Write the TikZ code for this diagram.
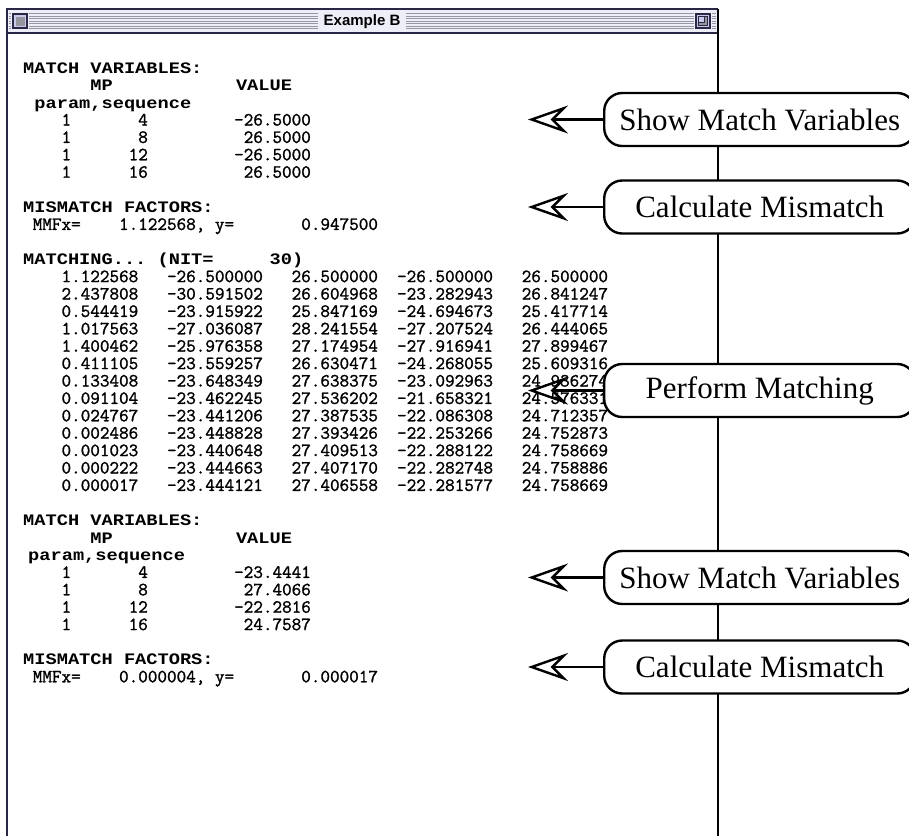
\documentclass[tikz,border=0pt]{standalone}
\usepackage{fontspec}
\usetikzlibrary{arrows.meta}
\newfontfamily\termfont{Latin Modern Mono}[FakeBold=1.4]
% Mac-style synthetic bold: one extra pixel per glyph, so the bold face runs wider
\newfontfamily\termbold{Liberation Mono}[FakeStretch=1.167]
\newfontfamily\calloutfont{Liberation Serif}
\newfontfamily\titlefont{Liberation Sans}
\definecolor{titlebg}{RGB}{238,238,248}
\definecolor{stripe}{RGB}{150,150,165}
\definecolor{chrome}{RGB}{40,40,70}
\definecolor{boxfill}{RGB}{200,200,232}
\definecolor{boxshade}{RGB}{150,150,160}
% baseline of text line #1 (lines are 17.4pt apart)
\newcommand\rowy[1]{{73.3+17.4*(#1-1)}}
\frenchspacing
\begin{document}
\begin{tikzpicture}[x=1pt,y=-1pt,
  mono/.style={inner sep=0pt,anchor=base west,font=\termfont\fontsize{18.62}{18}\selectfont},
  monob/.style={inner sep=0pt,anchor=base west,font=\termbold\bfseries\fontsize{16}{16}\selectfont},
  callout/.style={draw,line width=2.4pt,fill=white,rounded corners=18pt,
    minimum width=311pt,minimum height=53pt,inner sep=0pt,anchor=west,
    font=\calloutfont\fontsize{31}{31}\selectfont},
  pointer/.style={line width=2.4pt,-{Stealth[open,length=40pt,width=28pt,inset=14pt]}},
  stripe line/.style={stripe,line width=0.9pt},
  frame/.style={line width=2pt,chrome}]

\useasboundingbox (0,0) rectangle (909,836);
\fill[white] (0,0) rectangle (909,836);

% ---- window title bar ----
\fill[titlebg] (7,9) rectangle (718,33);
\foreach \yy in {13.5,16,18.5,21,23.5,26,28.5}
  \draw[stripe line] (9,\yy) -- (716,\yy);
\fill[titlebg] (318,11) rectangle (406,31);
\node[inner sep=0pt,font=\titlefont\bfseries\fontsize{15}{15}\selectfont] (title) at (362,21.5) {Example B};
% close box
\fill[titlebg] (11,12) rectangle (29,30);
\draw[chrome,line width=1.2pt,fill=boxfill] (13,14) rectangle (27,28);
\fill[boxshade] (15.5,16.5) rectangle (25,26);
% zoom box
\fill[titlebg] (694,12) rectangle (712,30);
\draw[chrome,line width=1.2pt,fill=boxfill] (696,14) rectangle (710,28);
\draw[chrome,line width=1pt,fill=boxshade] (698.5,16.5) rectangle (707,25.5);
\draw[chrome,line width=1pt,fill=boxfill] (698.5,16.5) rectangle (704,22);
\draw[chrome,line width=1.4pt] (7,33) -- (718,33);

% ---- window frame ----
\draw[frame] (7,836) -- (7,9) -- (718,9);
\draw[line width=2.4pt] (718,9) -- (718,836);

% ---- terminal output ----
\node[monob] (h1a) at (23,\rowy{1}) {MATCH};
\node[monob] (h1b) at (90.2,\rowy{1}) {VARIABLES:};
\node[monob] (h2a) at (90.2,\rowy{2}) {MP};
\node[monob] (h2b) at (235.8,\rowy{2}) {VALUE};
\node[monob] (h3) at (34.2,\rowy{3}) {param,sequence};
\node[mono] (r1) at (23,\rowy{4}) {~~~~1~~~~~~~4~~~~~~~~~-26.5000};
\node[mono] (r2) at (23,\rowy{5}) {~~~~1~~~~~~~8~~~~~~~~~~26.5000};
\node[mono] (r3) at (23,\rowy{6}) {~~~~1~~~~~~12~~~~~~~~~-26.5000};
\node[mono] (r4) at (23,\rowy{7}) {~~~~1~~~~~~16~~~~~~~~~~26.5000};

\node[monob] (m1a) at (23,\rowy{9}) {MISMATCH};
\node[monob] (m1b) at (123.8,\rowy{9}) {FACTORS:};
\node[mono] (m1c) at (23,\rowy{10}) {~MMFx=~~~~1.122568,~y=~~~~~~~0.947500};

\node[monob] (n1) at (23,\rowy{12}) {MATCHING...};
\node[monob] (n2) at (157.4,\rowy{12}) {(NIT=};
\node[monob] (n3) at (269.4,\rowy{12}) {30)};
\node[mono] (d1) at (23,\rowy{13}) {~~~~1.122568~~~-26.500000~~~26.500000~~-26.500000~~~26.500000};
\node[mono] (d2) at (23,\rowy{14}) {~~~~2.437808~~~-30.591502~~~26.604968~~-23.282943~~~26.841247};
\node[mono] (d3) at (23,\rowy{15}) {~~~~0.544419~~~-23.915922~~~25.847169~~-24.694673~~~25.417714};
\node[mono] (d4) at (23,\rowy{16}) {~~~~1.017563~~~-27.036087~~~28.241554~~-27.207524~~~26.444065};
\node[mono] (d5) at (23,\rowy{17}) {~~~~1.400462~~~-25.976358~~~27.174954~~-27.916941~~~27.899467};
\node[mono] (d6) at (23,\rowy{18}) {~~~~0.411105~~~-23.559257~~~26.630471~~-24.268055~~~25.609316};
\node[mono] (d7) at (23,\rowy{19}) {~~~~0.133408~~~-23.648349~~~27.638375~~-23.092963~~~24.936274};
\node[mono] (d8) at (23,\rowy{20}) {~~~~0.091104~~~-23.462245~~~27.536202~~-21.658321~~~24.576331};
\node[mono] (d9) at (23,\rowy{21}) {~~~~0.024767~~~-23.441206~~~27.387535~~-22.086308~~~24.712357};
\node[mono] (d10) at (23,\rowy{22}) {~~~~0.002486~~~-23.448828~~~27.393426~~-22.253266~~~24.752873};
\node[mono] (d11) at (23,\rowy{23}) {~~~~0.001023~~~-23.440648~~~27.409513~~-22.288122~~~24.758669};
\node[mono] (d12) at (23,\rowy{24}) {~~~~0.000222~~~-23.444663~~~27.407170~~-22.282748~~~24.758886};
\node[mono] (d13) at (23,\rowy{25}) {~~~~0.000017~~~-23.444121~~~27.406558~~-22.281577~~~24.758669};

\node[monob] (k1a) at (23,\rowy{27}) {MATCH};
\node[monob] (k1b) at (90.2,\rowy{27}) {VARIABLES:};
\node[monob] (k2a) at (90.2,\rowy{28}) {MP};
\node[monob] (k2b) at (235.8,\rowy{28}) {VALUE};
\node[monob] (k3) at (28,\rowy{29}) {param,sequence};
\node[mono] (s1) at (23,\rowy{30}) {~~~~1~~~~~~~4~~~~~~~~~-23.4441};
\node[mono] (s2) at (23,\rowy{31}) {~~~~1~~~~~~~8~~~~~~~~~~27.4066};
\node[mono] (s3) at (23,\rowy{32}) {~~~~1~~~~~~12~~~~~~~~~-22.2816};
\node[mono] (s4) at (23,\rowy{33}) {~~~~1~~~~~~16~~~~~~~~~~24.7587};

\node[monob] (q1a) at (23,\rowy{35}) {MISMATCH};
\node[monob] (q1b) at (123.8,\rowy{35}) {FACTORS:};
\node[mono] (q1c) at (23,\rowy{36}) {~MMFx=~~~~0.000004,~y=~~~~~~~0.000017};

% ---- callouts ----
\node[callout] (b1) at (603,119.5) {Show Match Variables};
\node[callout] (b2) at (603,207) {Calculate Mismatch};
\node[callout] (b3) at (603,390.5) {Perform Matching};
\node[callout] (b4) at (603,577.5) {Show Match Variables};
\node[callout] (b5) at (603,667) {Calculate Mismatch};

\coordinate (p1) at (528,119.5);
\coordinate (p2) at (528,207);
\coordinate (p3) at (528,390.5);
\coordinate (p4) at (528,577.5);
\coordinate (p5) at (528,667);
\foreach \i in {1,...,5}
  \draw[pointer] (b\i.west) -- (p\i);
\end{tikzpicture}
\end{document}
